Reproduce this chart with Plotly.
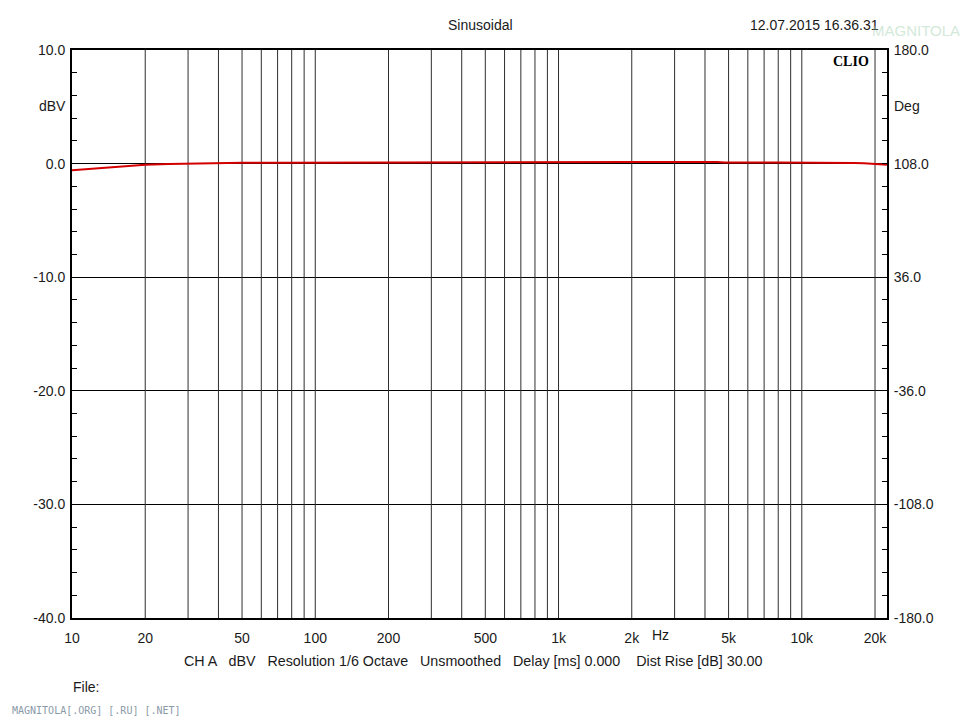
import numpy as np
import plotly.graph_objects as go

# Measured frequency response (CLIO sinusoidal sweep)
freq_hz = [10, 12, 14, 16, 18, 20, 25, 30, 40, 50, 70, 100, 200, 340, 360,
           1000, 2000, 4500, 4800, 8000, 10000, 15500, 16500, 18000, 20000, 22400]
level_dbv = [-0.58, -0.45, -0.34, -0.25, -0.17, -0.11, -0.04, 0.00, 0.05, 0.07,
             0.08, 0.09, 0.10, 0.10, 0.15, 0.15, 0.15, 0.15, 0.10, 0.10, 0.10,
             0.10, 0.05, 0.03, -0.05, -0.10]

x_tick_vals = [10, 20, 50, 100, 200, 500, 1000, 2000, 5000, 10000, 20000]
x_tick_text = ["10", "20", "50", "100", "200", "500", "1k", "2k", "5k", "10k", "20k"]

y_tick_vals = [10, 0, -10, -20, -30, -40]
y_tick_text = ["10.0", "0.0", "-10.0", "-20.0", "-30.0", "-40.0"]

deg_tick_vals = [180, 108, 36, -36, -108, -180]
deg_tick_text = ["180.0", "108.0", "36.0", "-36.0", "-108.0", "-180.0"]

# vertical grid: every 1..9 x decade from 20 Hz to 20 kHz
grid_freqs = [m * 10 ** d for d in range(1, 5) for m in range(1, 10)]
grid_freqs = [f for f in grid_freqs if 10 < f <= 20000]

FONT = "Liberation Sans, Arial, sans-serif"
TXT = "#1a1a1a"

# plot area in pixels (used to place free text)
L, R, T, B = 72, 887, 50, 618
W, H = 960, 720


def px(x):
    return (x - L) / (R - L)


def py(y):
    return (B - y) / (B - T)


fig = go.Figure()

# vertical grid lines as a separate trace so labels stay sparse
gx, gy = [], []
for f in grid_freqs:
    gx += [f, f, None]
    gy += [-40, 10, None]
fig.add_trace(go.Scatter(x=gx, y=gy, mode="lines",
                         line=dict(color="#2e2e2e", width=1),
                         hoverinfo="skip", showlegend=False))

fig.add_trace(go.Scatter(x=freq_hz, y=level_dbv, mode="lines",
                         line=dict(color="#d40000", width=2),
                         showlegend=False))

# phase axis carrier (no visible data)
fig.add_trace(go.Scatter(x=[freq_hz[0]], y=[0], yaxis="y2", mode="markers",
                         marker=dict(opacity=0), hoverinfo="skip",
                         showlegend=False))

fig.update_layout(
    width=W, height=H,
    margin=dict(l=L, r=W - R, t=T, b=H - B),
    paper_bgcolor="white", plot_bgcolor="white",
    font=dict(family=FONT, size=13, color=TXT),
    xaxis=dict(
        type="log", range=[1, np.log10(22400)],
        tickvals=x_tick_vals, ticktext=x_tick_text,
        showgrid=False, zeroline=False,
        showline=True, linecolor="black", linewidth=2, mirror=True,
        ticks="", tickfont=dict(size=14, family=FONT, color=TXT),
        ticklabelstandoff=6,
    ),
    yaxis=dict(
        range=[-40, 10], tickvals=y_tick_vals, ticktext=y_tick_text,
        showgrid=True, gridcolor="black", gridwidth=1, zeroline=False,
        showline=True, linecolor="black", linewidth=2, mirror=False,
        ticks="inside", ticklen=5, tickcolor="black",
        minor=dict(dtick=2, ticks="inside", ticklen=5, tickcolor="black", showgrid=False),
        tickfont=dict(size=14, family=FONT, color=TXT),
        ticklabelstandoff=2,
    ),
    yaxis2=dict(
        overlaying="y", side="right", range=[-180, 180],
        tickvals=deg_tick_vals, ticktext=deg_tick_text,
        showgrid=False, zeroline=False,
        showline=True, linecolor="black", linewidth=2,
        ticks="inside", ticklen=5, tickcolor="black",
        minor=dict(dtick=14.4, tick0=-180, ticks="inside", ticklen=5, tickcolor="black", showgrid=False),
        tickfont=dict(size=14, family=FONT, color=TXT),
        ticklabelstandoff=2,
    ),
)

annotations = [
    dict(text="Sinusoidal", x=480, y=25, size=14),
    dict(text="12.07.2015 16.36.31", x=814, y=25, size=14),
    dict(text="dBV", x=52, y=106, size=14),
    dict(text="Deg", x=907, y=106, size=14),
    dict(text="Hz", x=660, y=635, size=14),
    dict(text="CH A   dBV   Resolution 1/6 Octave   Unsmoothed   Delay [ms] 0.000    Dist Rise [dB] 30.00",
         x=473, y=661, size=14.3),
    dict(text="File:", x=86, y=687, size=14),
]
for a in annotations:
    fig.add_annotation(
        text=a["text"], x=px(a["x"]), y=py(a["y"]),
        xref="paper", yref="paper", xanchor="center", yanchor="middle",
        showarrow=False, font=dict(size=a["size"], family=FONT, color=TXT),
    )

# instrument badge inside the plot
fig.add_annotation(text="<b>CLIO</b>", x=px(851), y=py(61),
                   xref="paper", yref="paper", xanchor="center", yanchor="middle",
                   showarrow=False,
                   font=dict(size=14, family="Liberation Serif, Times New Roman, serif", color="black"))

# site watermark
fig.add_annotation(text="MAGNITOLA", x=px(916), y=py(30),
                   xref="paper", yref="paper", xanchor="center", yanchor="middle",
                   showarrow=False, opacity=0.5,
                   font=dict(size=15, family="Liberation Sans Narrow, Liberation Sans, sans-serif", color="#a8d4b4"))
fig.add_annotation(text="MAGNITOLA[.ORG] [.RU] [.NET]", x=px(10), y=py(710),
                   xref="paper", yref="paper", xanchor="left", yanchor="middle",
                   showarrow=False,
                   font=dict(size=10, family="DejaVu Sans Mono, monospace", color="#8a9aa8"))

fig.write_html("out.html")
